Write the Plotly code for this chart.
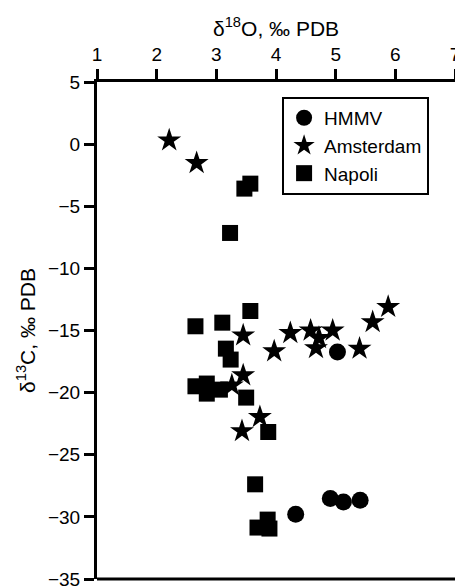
import plotly.graph_objects as go

# HMMV (circles)
hmmv_x = [5.03, 4.33, 4.91, 5.13, 5.41]
hmmv_y = [-16.73, -29.79, -28.53, -28.80, -28.67]

# Amsterdam (stars)
ams_x = [2.21, 2.67, 3.45, 3.97, 3.45, 3.26, 3.73, 3.43, 4.24, 4.58, 4.72, 4.95, 4.67, 5.40, 5.62, 5.88]
ams_y = [0.31, -1.52, -15.39, -16.67, -18.60, -19.41, -21.96, -23.09, -15.20, -15.00, -15.60, -15.00, -16.41, -16.46, -14.32, -13.10]

# Napoli (squares)
nap_x = [3.47, 3.57, 3.23, 3.57, 2.65, 3.10, 3.16, 3.24, 2.65, 2.84, 2.84, 3.06, 3.50, 3.87, 3.65, 3.86, 3.69, 3.89]
nap_y = [-3.58, -3.18, -7.15, -13.43, -14.66, -14.37, -16.46, -17.34, -19.49, -19.27, -20.08, -19.76, -20.40, -23.17, -27.38, -30.22, -30.86, -30.94]

x_ticks = [1, 2, 3, 4, 5, 6, 7]
y_ticks = [5, 0, -5, -10, -15, -20, -25, -30, -35]

FONT = "Arial, Liberation Sans, sans-serif"

fig = go.Figure()
fig.add_trace(go.Scatter(x=hmmv_x, y=hmmv_y, mode="markers", name="HMMV",
                         legendgroup="a",
                         marker=dict(symbol="circle", size=17, color="black", line=dict(width=0))))
fig.add_trace(go.Scatter(x=ams_x, y=ams_y, mode="markers", name="Amsterdam",
                         legendgroup="b",
                         marker=dict(symbol="star", size=18, color="black", line=dict(width=0))))
fig.add_trace(go.Scatter(x=nap_x, y=nap_y, mode="markers", name="Napoli",
                         legendgroup="c",
                         marker=dict(symbol="square", size=16, color="black", line=dict(width=0))))

fig.add_shape(type="line", xref="paper", yref="paper", x0=0, x1=1, y0=0, y1=0,
              line=dict(color="black", width=3))

# x-axis title placed as an annotation above the top tick labels
fig.add_annotation(text="δ<sup>18</sup>O, ‰ PDB", xref="paper", yref="paper",
                   x=0.5, y=1.111, xanchor="center", yanchor="middle",
                   showarrow=False, font=dict(family=FONT, size=21, color="black"))

fig.update_layout(
    width=455, height=586,
    margin=dict(l=97, r=0, t=82, b=7),
    paper_bgcolor="white", plot_bgcolor="white",
    font=dict(family=FONT, size=19, color="black"),
    showlegend=True,
    legend=dict(x=0.517, y=0.97, xanchor="left", yanchor="top",
                bgcolor="white", bordercolor="black", borderwidth=2,
                font=dict(family=FONT, size=19, color="black"),
                tracegroupgap=7, traceorder="normal"),
    xaxis=dict(side="top", range=[1, 7], tickvals=x_ticks, automargin=False,
               showline=True, linecolor="black", linewidth=3, mirror=False,
               ticks="outside", ticklen=10, tickwidth=3, tickcolor="black",
               showgrid=False, zeroline=False, ticklabeloverflow="allow",
               tickfont=dict(family=FONT, size=19)),
    yaxis=dict(range=[-35, 5], tickvals=y_ticks, automargin="left",
               showline=True, linecolor="black", linewidth=3, mirror=False,
               ticks="outside", ticklen=10, tickwidth=3, tickcolor="black",
               showgrid=False, zeroline=False, ticklabeloverflow="allow",
               tickfont=dict(family=FONT, size=19),
               title=dict(text="δ<sup>13</sup>C, ‰ PDB", font=dict(family=FONT, size=21), standoff=7)),
)

fig.write_html("out.html")
